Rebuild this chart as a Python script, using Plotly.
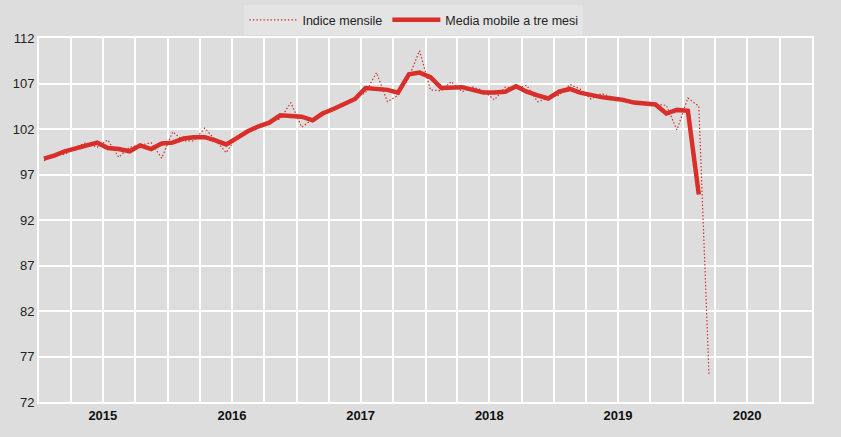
import pandas as pd
import plotly.graph_objects as go

# Monthly index (Jan 2015 - Mar 2020)
indice_mensile = [
    98.5, 99.3, 99.2, 100.0, 100.5, 100.0, 100.8, 98.9, 100.0, 100.2, 100.5, 98.8,
    101.7, 100.7, 100.7, 102.1, 100.8, 99.4, 101.2, 101.9, 102.3, 102.8, 103.1, 104.9,
    102.2, 103.1, 103.5, 104.4, 104.6, 105.3, 106.0, 108.2, 105.0, 105.7, 107.7, 110.6,
    106.3, 106.2, 107.2, 106.1, 106.6, 106.2, 105.2, 106.6, 106.5, 106.8, 105.0, 105.4,
    105.7, 106.9, 106.4, 105.3, 105.9, 105.5, 105.0, 105.0, 104.8, 104.7, 104.6, 101.9,
    105.4, 104.5, 74.9,
]

# Three-month moving average (Jan 2015 - Feb 2020)
media_mobile = [
    98.75, 99.1, 99.55, 99.9, 100.2, 100.5, 99.9, 99.8, 99.55, 100.2, 99.8, 100.4,
    100.5, 100.95, 101.1, 101.1, 100.75, 100.3, 101.0, 101.75, 102.3, 102.7, 103.5, 103.4,
    103.35, 102.95, 103.7, 104.2, 104.8, 105.3, 106.5, 106.4, 106.3, 106.0, 108.0, 108.2,
    107.7, 106.5, 106.5, 106.6, 106.3, 106.0, 106.0, 106.1, 106.7, 106.1, 105.7, 105.35,
    106.1, 106.4, 106.0, 105.7, 105.5, 105.35, 105.2, 104.9, 104.8, 104.7, 103.7, 104.1,
    104.0, 94.8,
]

year_labels = ["2015", "2016", "2017", "2018", "2019", "2020"]
y_ticks = [72, 77, 82, 87, 92, 97, 102, 107, 112]

months = pd.date_range("2015-01-01", periods=len(indice_mensile), freq="MS") + pd.Timedelta(days=14)
year_centers = [pd.Timestamp(f"{y}-07-01") for y in year_labels]

RED = "#D92F2B"
BG = "#DDDDDD"
FONT = "Liberation Sans, Arial, sans-serif"

fig = go.Figure()
fig.add_trace(go.Scatter(
    x=months, y=indice_mensile, mode="lines", name="Indice mensile",
    line=dict(color=RED, width=1.2, dash="1.5px,2px"),
))
fig.add_trace(go.Scatter(
    x=months[:len(media_mobile)], y=media_mobile, mode="lines",
    name="Media mobile a tre mesi",
    line=dict(color=RED, width=4.5),
))

fig.update_layout(
    width=841, height=437,
    margin=dict(l=39, r=29, t=38, b=35, autoexpand=False),
    paper_bgcolor=BG, plot_bgcolor=BG,
    font=dict(family=FONT, size=12, color="#222222"),
    showlegend=True,
    legend=dict(
        orientation="h", x=0.485, xanchor="center", y=1.09, yanchor="top",
        bgcolor="#E4E4E4", font=dict(family=FONT, size=12.5, color="#222222"),
        itemwidth=48, tracegroupgap=0,
    ),
    xaxis=dict(
        type="date",
        range=["2015-01-01", "2021-01-01"],
        tickmode="array", tickvals=year_centers,
        ticktext=[f"<b>{y}</b>" for y in year_labels],
        showgrid=False, ticks="", zeroline=False,
        tickfont=dict(family=FONT, size=13, color="#111111"),
        minor=dict(tick0="2015-01-01", dtick="M3", showgrid=True,
                   gridcolor="white", gridwidth=2, ticks=""),
        showline=True, linecolor="white", linewidth=2, mirror=True,
        automargin=False,
    ),
    yaxis=dict(
        range=[72, 112], tickmode="array", tickvals=y_ticks,
        showgrid=True, gridcolor="white", gridwidth=2, zeroline=False,
        ticks="", tickfont=dict(family=FONT, size=13, color="#222222"),
        showline=True, linecolor="white", linewidth=2, mirror=True,
        automargin=False,
    ),
)

fig.write_html(
    "out.html",
    config={"displayModeBar": False},
    post_script="document.body.style.margin='0';document.body.style.overflow='hidden';",
)
